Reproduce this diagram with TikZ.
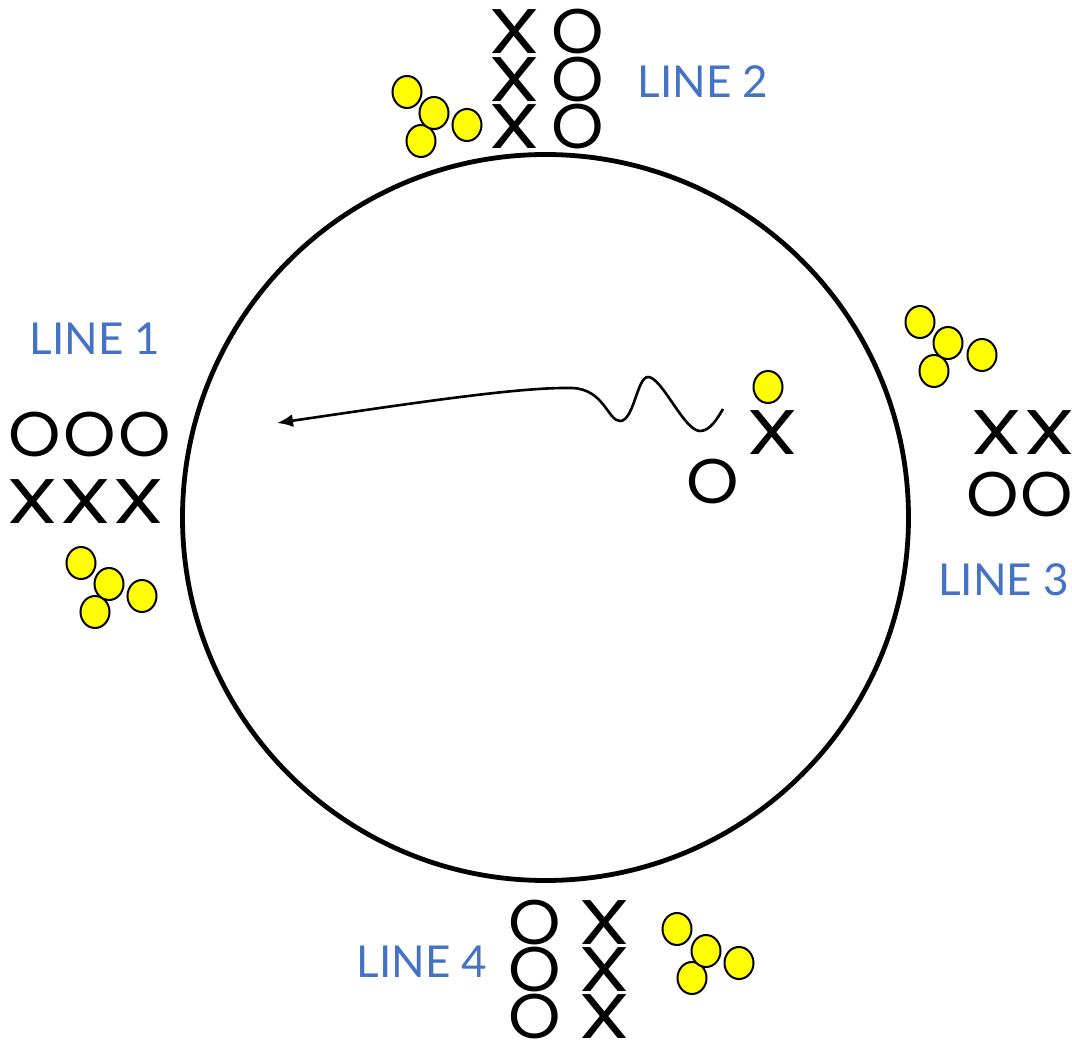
\documentclass[tikz,border=0pt]{standalone}
\usepackage{fontspec}
\usepackage{graphicx}
\setmainfont{Lato}
\newfontfamily\glyphfont{Poppins}
\newcommand{\gX}{\scalebox{1.33}[1]{X}}
\newcommand{\gO}{\scalebox{1.06}[1]{O}}
\usetikzlibrary{shapes.geometric,arrows.meta}
\definecolor{lblue}{HTML}{4472C4}
\definecolor{dotyellow}{HTML}{FFFF00}
\begin{document}
\begin{tikzpicture}[x=1pt,y=-1pt,
  glyph/.style={inner sep=0pt,font=\glyphfont\fontsize{63}{63}\selectfont},
  lbl/.style={inner sep=0pt,text=lblue,font=\fontsize{44}{44}\selectfont},
  ydot/.style={ellipse,draw=black,line width=2pt,fill=dotyellow,minimum width=29pt,minimum height=32pt,inner sep=0pt},
  ringstyle/.style={circle,draw=black,line width=4.8pt,minimum size=726pt,inner sep=0pt},
  wave/.style={line width=2.6pt,{Latex[length=16pt,width=13pt]}-}]
\useasboundingbox (0,0) rectangle (1072,1040);
\node[ringstyle] (ring) at (545.5,517.5) {};
% Line 1
\node[lbl] (l1) at (95,339) {LINE 1};
\node[glyph] (l1o1) at (35,435) {\gO};
\node[glyph] (l1o2) at (90,435) {\gO};
\node[glyph] (l1o3) at (145,435) {\gO};
\node[glyph] (l1x1) at (33,502) {\gX};
\node[glyph] (l1x2) at (86,502) {\gX};
\node[glyph] (l1x3) at (139,502) {\gX};
\node[ydot] (l1d1) at (81,563) {};
\node[ydot] (l1d4) at (142,596) {};
\node[ydot] (l1d3) at (95,612) {};
\node[ydot] (l1d2) at (109,584) {};
% Line 2
\node[lbl] (l2) at (703,82) {LINE 2};
\node[glyph] (l2x1) at (515,32) {\gX};
\node[glyph] (l2x2) at (515,80) {\gX};
\node[glyph] (l2x3) at (515,127) {\gX};
\node[glyph] (l2o1) at (578,32) {\gO};
\node[glyph] (l2o2) at (578,80) {\gO};
\node[glyph] (l2o3) at (578,127) {\gO};
\node[ydot] (l2d1) at (407,92) {};
\node[ydot] (l2d4) at (467,125) {};
\node[ydot] (l2d3) at (421,141) {};
\node[ydot] (l2d2) at (434,113) {};
% Line 3
\node[lbl,anchor=west] (l3) at (938,580) {LINE 3};
\node[glyph] (l3x1) at (997,433) {\gX};
\node[glyph] (l3x2) at (1050,433) {\gX};
\node[glyph] (l3o1) at (993,495) {\gO};
\node[glyph] (l3o2) at (1047,495) {\gO};
\node[ydot] (l3d1) at (920,322) {};
\node[ydot] (l3d4) at (982,355) {};
\node[ydot] (l3d3) at (934,371) {};
\node[ydot] (l3d2) at (948,343) {};
% Line 4
\node[lbl] (l4) at (422,962) {LINE 4};
\node[glyph] (l4o1) at (535,923) {\gO};
\node[glyph] (l4o2) at (535,970) {\gO};
\node[glyph] (l4o3) at (535,1017) {\gO};
\node[glyph] (l4x1) at (605,923) {\gX};
\node[glyph] (l4x2) at (605,970) {\gX};
\node[glyph] (l4x3) at (605,1017) {\gX};
\node[ydot] (l4d1) at (677,929) {};
\node[ydot] (l4d4) at (739,963) {};
\node[ydot] (l4d3) at (692,978) {};
\node[ydot] (l4d2) at (706,951) {};
% interaction inside
\node[ydot] (idot) at (768,387) {};
\node[glyph] (ix) at (773,433) {\gX};
\node[glyph] (io) at (713,482) {\gO};
\coordinate (tip) at (277,423);
\coordinate (wend) at (723,409);
\draw[wave] (tip) .. controls (420,402) and (520,387) .. (572,388)
  .. controls (604,389) and (608,421) .. (620,421)
  .. controls (634,421) and (637,377) .. (648,377)
  .. controls (662,377) and (684,431) .. (700,431)
  .. controls (710,431) and (717,419) .. (wend);
\end{tikzpicture}
\end{document}
